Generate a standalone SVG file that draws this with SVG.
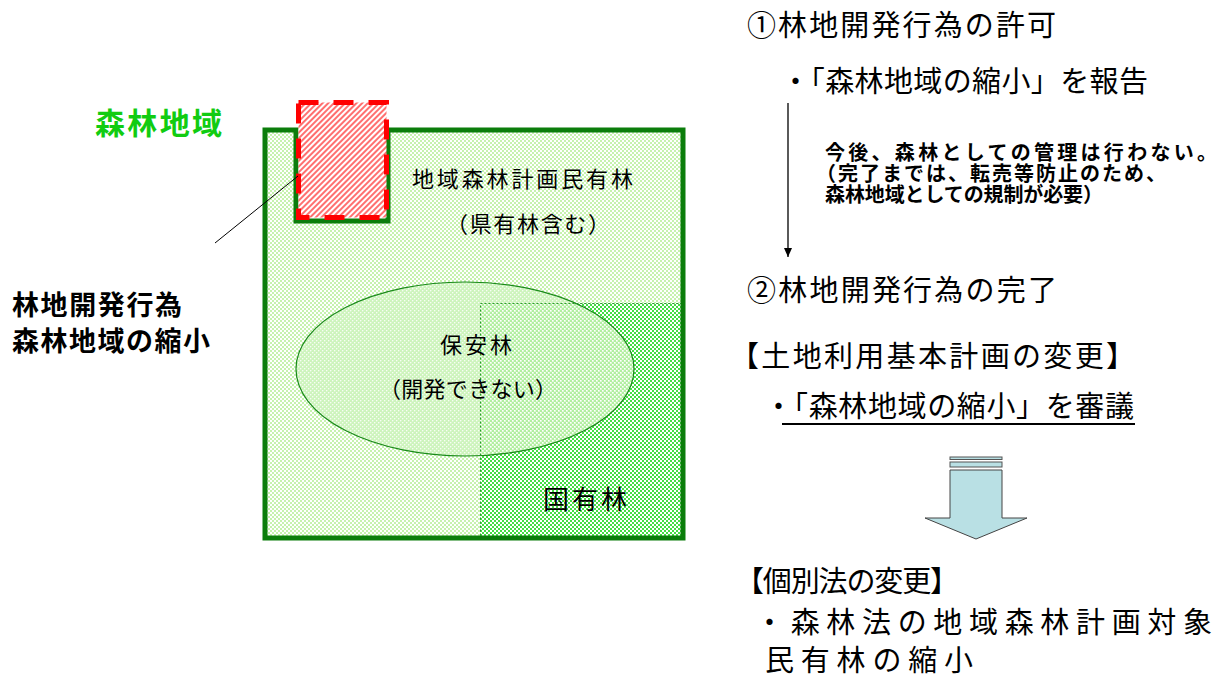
<svg xmlns="http://www.w3.org/2000/svg" width="1221" height="682" viewBox="0 0 1221 682">
<style>
text{font-family:"Liberation Sans","Noto Sans CJK JP",sans-serif;fill:#000}
.b{font-weight:bold}
.g{fill:#11cc11}
</style>
<defs>
<pattern id="base" width="4" height="4" patternUnits="userSpaceOnUse">
<rect width="4" height="4" fill="#ffffff"/>
<rect width="2" height="2" fill="#c6f2ae"/>
<rect x="2" y="2" width="2" height="2" fill="#c6f2ae"/>
</pattern>
<pattern id="dense" width="4" height="4" patternUnits="userSpaceOnUse">
<rect width="4" height="4" fill="#44dd44"/>
<rect width="2" height="2" fill="#ffffff"/>
<rect x="2" y="2" width="2" height="2" fill="#ffffff"/>
</pattern>
<pattern id="ellp" width="4" height="4" patternUnits="userSpaceOnUse">
<rect width="4" height="4" fill="#c4f2b0"/>
<rect width="1.5" height="1.5" fill="#ffffff"/>
<rect x="2" y="2" width="1.5" height="1.5" fill="#ffffff"/>
</pattern>
<pattern id="hatch" width="4" height="4" patternUnits="userSpaceOnUse" patternTransform="rotate(45)">
<rect width="4" height="4" fill="#ffffff"/>
<rect width="2" height="4" fill="#ff7070"/>
</pattern>
<marker id="ah" markerWidth="10" markerHeight="10" refX="9" refY="5" orient="auto" markerUnits="userSpaceOnUse">
<path d="M0,1 L9,5 L0,9 Z" fill="#000"/>
</marker>
</defs>

<g id="forest-area">
<path d="M265,130 H296 V221 H388 V130 H683 V538 H265 Z" fill="url(#base)"/>
</g>
<g id="national-forest">
<rect x="480" y="303" width="203" height="235" fill="url(#dense)"/>
</g>
<g id="protection-forest">
<ellipse cx="465" cy="369" rx="169" ry="87" fill="url(#ellp)" fill-opacity="0.85" stroke="#1a8a1a" stroke-width="1.2"/>
</g>
<rect x="480.5" y="303.5" width="202" height="234" fill="none" stroke="#2a9a2a" stroke-width="1" stroke-dasharray="2 2"/>
<path d="M265,130 H296 V221 H388 V130 H683 V538 H265 Z" fill="none" stroke="#0b7d0b" stroke-width="5"/>
<g id="development">
<rect x="298.5" y="102.5" width="88" height="115" fill="url(#hatch)" stroke="#ff0000" stroke-width="5" stroke-dasharray="20 15"/>
</g>

<g id="connectors">
<line x1="215" y1="243" x2="298" y2="176" stroke="#000" stroke-width="1"/>
<line x1="788" y1="103" x2="788" y2="257" stroke="#000" stroke-width="1.3" marker-end="url(#ah)"/>
</g>

<g id="labels-left">
<text class="b g" x="95" y="134" font-size="30" textLength="127" lengthAdjust="spacing">森林地域</text>
<text class="b" x="12" y="315" font-size="27" textLength="170" lengthAdjust="spacing">林地開発行為</text>
<text class="b" x="12" y="351" font-size="27" textLength="198" lengthAdjust="spacing">森林地域の縮小</text>
<text x="412" y="187" font-size="22" textLength="221" lengthAdjust="spacing">地域森林計画民有林</text>
<text x="446" y="232" font-size="22" textLength="164" lengthAdjust="spacing">（県有林含む）</text>
<text x="440" y="353" font-size="22" textLength="72" lengthAdjust="spacing">保安林</text>
<text x="379" y="397" font-size="22" textLength="178" lengthAdjust="spacing">（開発できない）</text>
<text x="543" y="509" font-size="26" textLength="84" lengthAdjust="spacing">国有林</text>
</g>

<g id="step1">
<text x="747" y="36" font-size="29" textLength="309" lengthAdjust="spacing">①林地開発行為の許可</text>
<text x="781" y="92" font-size="29" textLength="367" lengthAdjust="spacing">・「森林地域の縮小」を報告</text>
</g>
<g id="note">
<text class="b" x="825" y="160" font-size="20" textLength="392" lengthAdjust="spacing">今後、森林としての管理は行わない。</text>
<text class="b" x="816" y="181" font-size="20" textLength="350" lengthAdjust="spacing">（完了までは、転売等防止のため、</text>
<text class="b" x="825" y="202" font-size="20" textLength="278" lengthAdjust="spacing">森林地域としての規制が必要）</text>
</g>
<g id="step2">
<text x="747" y="301" font-size="29" textLength="310" lengthAdjust="spacing">②林地開発行為の完了</text>
<text x="730" y="367" font-size="29" textLength="405" lengthAdjust="spacing">【土地利用基本計画の変更】</text>
<text x="764" y="417" font-size="29" textLength="370" lengthAdjust="spacing">・「森林地域の縮小」を審議</text>
<line x1="782" y1="424" x2="1135" y2="424" stroke="#000" stroke-width="2"/>
</g>
<g id="block-arrow">
<rect x="950" y="457" width="52" height="2.5" fill="#b9e0e4" stroke="#555" stroke-width="1"/>
<rect x="950" y="462" width="52" height="5" fill="#b9e0e4" stroke="#555" stroke-width="1"/>
<path d="M950,470 H1002 V518 H1027 L976,539 L925,518 H950 Z" fill="#b9e0e4" stroke="#444" stroke-width="1"/>
</g>
<g id="step3">
<text x="735" y="592" font-size="29" textLength="224" lengthAdjust="spacing">【個別法の変更】</text>
<text x="755" y="633" font-size="29" textLength="457" lengthAdjust="spacing">・森林法の地域森林計画対象</text>
<text x="765" y="671" font-size="29" textLength="208" lengthAdjust="spacing">民有林の縮小</text>
</g>
</svg>
